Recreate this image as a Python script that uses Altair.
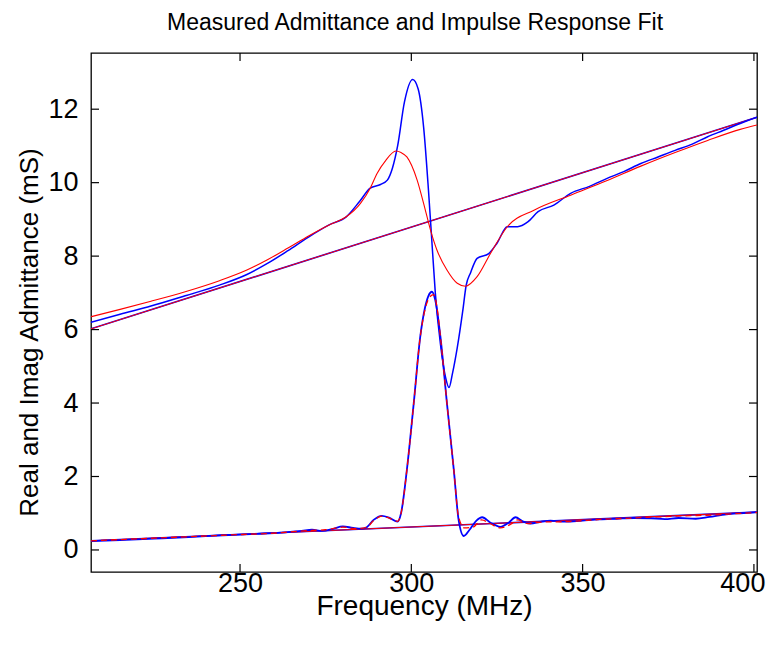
import altair as alt
import pandas as pd

TITLE = "Measured Admittance and Impulse Response Fit"
X_TITLE = "Frequency (MHz)"
Y_TITLE = "Real and Imag Admittance (mS)"
X_TICKS = [250, 300, 350, 400]
Y_TICKS = [0, 2, 4, 6, 8, 10, 12]
X_DOMAIN = [206.5, 400.9]
Y_DOMAIN = [-0.6, 13.53]

# Imaginary part, measured (blue)
imag_meas_f = [206.5, 215, 224, 234, 244, 252, 258, 264, 270, 276, 281, 285, 288, 291, 293,
               294.5, 296, 298, 300.4, 302, 303.6, 305, 306, 307, 308.5, 310, 311, 312, 313.4,
               315, 316, 317.3, 319.2, 322.6, 325, 328, 331, 334, 337, 341.6, 346.5, 352, 357,
               362, 367, 372, 377, 382, 386.5, 391, 396, 400.9]
imag_meas_v = [6.20, 6.42, 6.64, 6.92, 7.21, 7.50, 7.80, 8.15, 8.52, 8.85, 9.07, 9.50, 9.85,
               9.95, 10.07, 10.40, 11.00, 12.20, 12.81, 12.55, 11.50, 9.80, 8.40, 7.00, 5.60,
               4.70, 4.42, 4.80, 5.50, 6.50, 7.20, 7.55, 7.94, 8.07, 8.35, 8.80, 8.80, 8.93, 9.21,
               9.39, 9.71, 9.90, 10.11, 10.30, 10.52, 10.70, 10.88, 11.05, 11.25, 11.42, 11.61,
               11.78]

# Imaginary part, impulse response fit (red)
imag_fit_f = [206.5, 215, 224, 234, 244, 252, 258, 264, 270, 276, 281, 285.1, 288,
              290, 292.5, 295.5, 297, 298.7, 301.7, 303.6, 305.6, 307.5, 310.4, 313.4, 315.8,
              319.2, 323.1, 328, 335.8, 346.5, 357, 367, 377, 386.5, 396, 400.9]
imag_fit_v = [6.35, 6.55, 6.77, 7.03, 7.33, 7.62, 7.90, 8.22, 8.55, 8.85, 9.07, 9.43,
              9.85, 10.25, 10.60, 10.86, 10.82, 10.70, 10.07, 9.43, 8.71, 8.16, 7.62, 7.26, 7.18,
              7.44, 8.07, 8.80, 9.25, 9.66, 10.05, 10.45, 10.82, 11.15, 11.45, 11.57]

# Imaginary baseline (straight)
imag_line_f = [206.5, 400.9]
imag_line_v = [6.02, 11.78]

# Real part, measured (blue)
real_meas_f = [206.5, 215, 225, 235, 245, 255, 262, 268, 271, 274, 277, 280, 283, 285.5, 287, 289,
               291.4, 293.5, 296, 297, 298.7, 300.7, 302.6, 304, 305, 306, 307, 308.5, 310.4,
               312.4, 313.8, 315.3, 317, 319, 320.7, 323, 326, 328.5, 330.4, 332.5, 334.8, 337.5,
               340.6, 345, 350, 355, 360, 365, 370, 374, 378, 383, 387, 392, 396, 400.9]
real_meas_v = [0.24, 0.27, 0.31, 0.35, 0.40, 0.44, 0.47, 0.52, 0.55, 0.52, 0.57, 0.64, 0.60, 0.58,
               0.62, 0.82, 0.93, 0.88, 0.77, 1.00, 2.18, 3.99, 5.80, 6.60, 6.92, 7.03, 6.80, 5.80,
               3.99, 2.18, 0.82, 0.38, 0.55, 0.80, 0.89, 0.75, 0.63, 0.75, 0.89, 0.78, 0.72, 0.76,
               0.80, 0.77, 0.80, 0.83, 0.85, 0.87, 0.86, 0.84, 0.87, 0.85, 0.90, 0.97, 1.00, 1.03]

# Real part, impulse response fit (red dashed)
real_fit_f = [206.5, 225, 245, 262, 270, 275, 280, 284, 287, 289, 291.4, 293.5, 296, 297, 298.7,
              300.7, 302.6, 304, 305.5, 306.5, 307.5, 308.5, 310.4, 312.4, 313.8, 315.5, 318,
              320.5, 323, 326, 329, 331, 334, 338, 345, 355, 365, 372, 380, 388, 395, 400.9]
real_fit_v = [0.25, 0.32, 0.40, 0.47, 0.53, 0.55, 0.62, 0.58, 0.62, 0.80, 0.92, 0.87, 0.78, 1.00,
              2.18, 3.99, 5.80, 6.55, 6.90, 6.95, 6.60, 5.80, 3.99, 2.18, 0.90, 0.60, 0.62, 0.82,
              0.72, 0.60, 0.70, 0.82, 0.72, 0.76, 0.77, 0.83, 0.87, 0.90, 0.93, 0.95, 0.99, 1.02]

# Real baseline (straight)
real_line_f = [206.5, 400.9]
real_line_v = [0.25, 1.03]

BLUE = "#0000ff"
RED = "#ff0000"
FONT = "Liberation Sans"
TICK_LEN = 8


def frame(f, v):
    return pd.DataFrame({"f": f, "v": v})


x_scale = alt.Scale(domain=X_DOMAIN, nice=False, zero=False)
y_scale = alt.Scale(domain=Y_DOMAIN, nice=False, zero=False)

common_axis = dict(grid=False, domain=False, ticks=False, tickSize=0,
                   labelFont=FONT, titleFont=FONT, labelColor="black", titleColor="black",
                   titleFontWeight="normal", labelFontSize=27)

AX_X = alt.Axis(orient="bottom", values=X_TICKS, format="d", labelPadding=-2,
                labelFlush=5, labelFlushOffset=11,
                title=X_TITLE, titleFontSize=28, titlePadding=-4, **common_axis)
AX_Y = alt.Axis(orient="left", values=Y_TICKS, format="d", labelPadding=13,
                title=Y_TITLE, titleFontSize=26, titlePadding=5, titleY=279,
                **common_axis)


def enc(chart):
    return chart.encode(
        x=alt.X("f:Q", scale=x_scale, axis=AX_X),
        y=alt.Y("v:Q", scale=y_scale, axis=AX_Y),
    )


def line(df, color, width, dash=None):
    kw = dict(color=color, strokeWidth=width, clip=True, interpolate="monotone")
    if dash is not None:
        kw["strokeDash"] = dash
    return enc(alt.Chart(df).mark_line(**kw)).encode(order="f:Q")


def ticks(f, v, orient, dx=0, dy=0):
    return enc(alt.Chart(frame(f, v)).mark_tick(
        orient=orient, size=TICK_LEN, thickness=1.2, color="black", opacity=1,
        xOffset=dx, yOffset=dy,
    ))


half = TICK_LEN / 2
layers = [
    line(frame(imag_line_f, imag_line_v), BLUE, 1.6),
    line(frame(imag_line_f, imag_line_v), RED, 1.0),
    line(frame(real_line_f, real_line_v), BLUE, 1.6),
    line(frame(real_line_f, real_line_v), RED, 1.0),
    line(frame(imag_meas_f, imag_meas_v), BLUE, 1.5),
    line(frame(imag_fit_f, imag_fit_v), RED, 1.1),
    line(frame(real_meas_f, real_meas_v), BLUE, 1.8),
    line(frame(real_fit_f, real_fit_v), RED, 1.3, dash=[6, 4]),
    ticks(X_TICKS, [Y_DOMAIN[0]] * len(X_TICKS), "vertical", dy=-half),
    ticks(X_TICKS, [Y_DOMAIN[1]] * len(X_TICKS), "vertical", dy=half),
    ticks([X_DOMAIN[0]] * len(Y_TICKS), Y_TICKS, "horizontal", dx=half),
    ticks([X_DOMAIN[1]] * len(Y_TICKS), Y_TICKS, "horizontal", dx=-half),
]

chart = alt.layer(*layers).properties(
    width=666,
    height=519,
    autosize=alt.AutoSizeParams(type="none"),
    padding={"left": 83, "top": 45, "right": 13, "bottom": 66},
    title=alt.TitleParams(TITLE, font=FONT, fontSize=23, fontWeight="normal", color="black",
                          anchor="middle", offset=18, dx=-9),
).configure(
    background="white",
    view=alt.ViewConfig(stroke="black", strokeWidth=1.3),
)

chart.save("out.html", embed_options={"renderer": "svg", "actions": False})
